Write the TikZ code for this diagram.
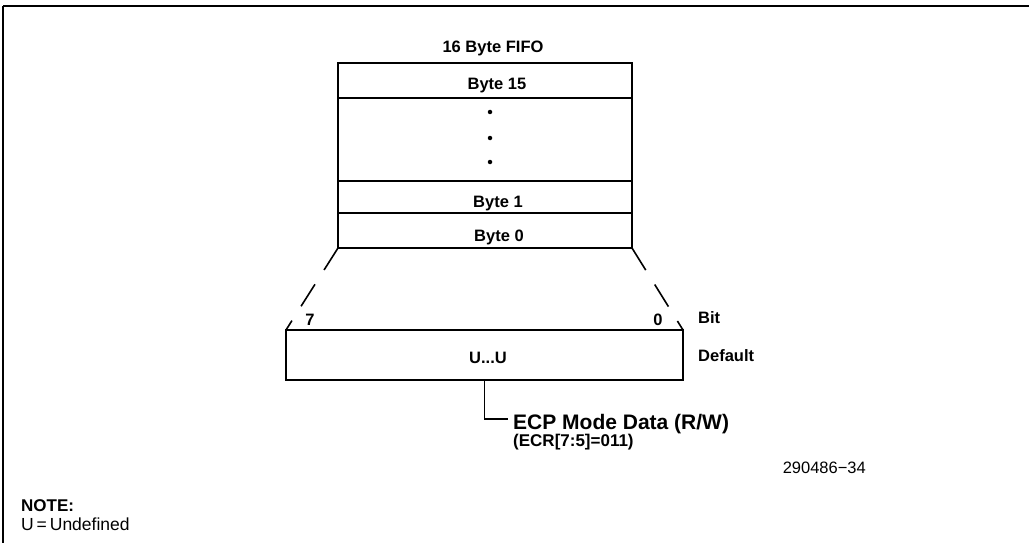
\documentclass[tikz,border=0pt]{standalone}
\usepackage{fontspec}
\setmainfont{Liberation Sans}
\begin{document}
\begin{tikzpicture}[x=1pt,y=-1pt,
  box/.style={draw, line width=1.6pt, rectangle, inner sep=0pt, outer sep=0pt},
  lbl/.style={inner sep=0pt, font=\bfseries\fontsize{16.5}{19}\selectfont},
  lblbig/.style={inner sep=0pt, font=\bfseries\fontsize{21}{24}\selectfont},
  lblmid/.style={inner sep=0pt, font=\bfseries\fontsize{17}{20}\selectfont},
  plain/.style={inner sep=0pt, font=\fontsize{16.5}{19}\selectfont},
  dotmark/.style={circle, fill, inner sep=0pt, minimum size=4.5pt},
  dashline/.style={line width=1.6pt, dash pattern=on 26pt off 17pt},
  conn/.style={line width=1.6pt}]
\useasboundingbox (0,0) rectangle (1029,543);
% frame
\draw[line width=2.5pt] (3,6) -- (1029,6);
\draw[line width=1.5pt] (3,6) -- (3,543);
% FIFO rows
\node[box, minimum width=294pt, minimum height=35pt] (r15) at (485,80.5) {};
\node[box, minimum width=294pt, minimum height=83pt] (rd) at (485,139.5) {};
\node[box, minimum width=294pt, minimum height=32pt] (r1) at (485,197) {};
\node[box, minimum width=294pt, minimum height=35pt] (r0) at (485,230.5) {};
% register
\node[box, minimum width=397pt, minimum height=50pt] (reg) at (484.5,355) {};
% texts
\node[lbl, anchor=base] (title) at (493,53) {16 Byte FIFO};
\node[lbl, anchor=base] (t15) at (497,90) {Byte 15};
\node[dotmark] (d1) at (490,112) {};
\node[dotmark] (d2) at (490,138) {};
\node[dotmark] (d3) at (490,162) {};
\node[lbl, anchor=base] (t1) at (498,207) {Byte 1};
\node[lbl, anchor=base] (t0) at (499,241) {Byte 0};
\node[lbl, anchor=base] (tu) at (488,363) {U...U};
\node[lbl, anchor=base] (b7) at (310,325) {7};
\node[lbl, anchor=base] (b0) at (658,325) {0};
\node[lbl, anchor=base west] (bit) at (698,323) {Bit};
\node[lbl, anchor=base west] (def) at (698,361) {Default};
\node[lblbig, anchor=base west] (ecp) at (513,429) {ECP Mode Data (R/W)};
\node[lblmid, anchor=base west] (ecr) at (513,446) {(ECR[7:5]=011)};
\node[plain, anchor=base east] (fig) at (866,473) {290486−34};
\node[lblmid, anchor=base west] (note) at (21,511) {NOTE:};
\node[inner sep=0pt, font=\fontsize{17.5}{20}\selectfont, anchor=base west] (undef) at (21,530) {U\,=\,Undefined};
% connectors
\draw[dashline] (r0.south west) -- (reg.north west);
\draw[dashline] (r0.south east) -- (reg.north east);
\coordinate (ce) at (508,419);
\draw[conn] (reg.south) |- (ce);
\end{tikzpicture}
\end{document}
